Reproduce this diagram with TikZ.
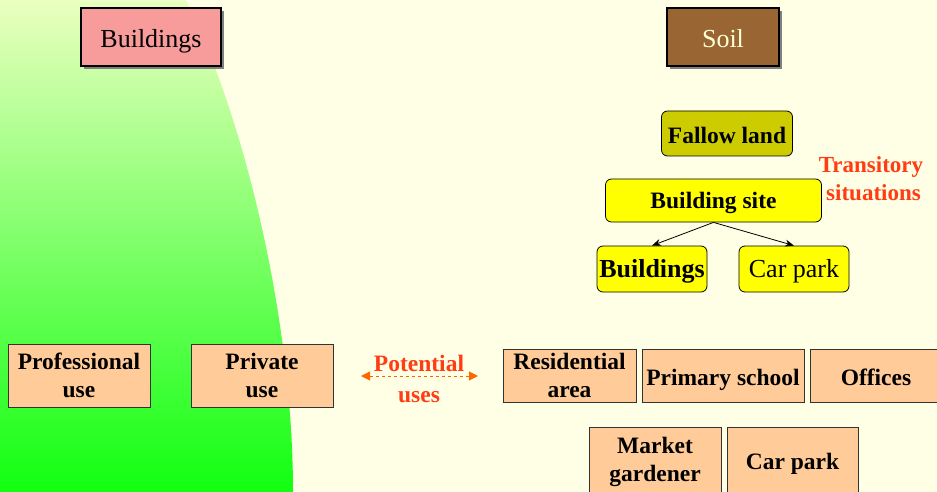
\documentclass[tikz,border=0pt]{standalone}
\usepackage{fontspec}
\setmainfont{Liberation Serif}
\usetikzlibrary{shadows,arrows.meta}
\definecolor{bgcol}{RGB}{255,255,229}
\definecolor{pinkc}{RGB}{247,155,155}
\definecolor{soilc}{RGB}{153,102,51}
\definecolor{soiltxt}{RGB}{255,255,214}
\definecolor{fallowc}{RGB}{204,204,0}
\definecolor{yelc}{RGB}{255,255,0}
\definecolor{peachc}{RGB}{255,204,153}
\definecolor{redtxt}{RGB}{255,60,20}
\definecolor{arrowc}{RGB}{255,102,0}
\definecolor{gtop}{RGB}{234,255,192}
\definecolor{gmid}{RGB}{160,255,136}
\definecolor{gbot}{RGB}{17,255,17}
\begin{document}
\begin{tikzpicture}[x=1pt,y=-1pt,
  topbox/.style={draw=black,line width=1.2pt,inner sep=0pt,
    drop shadow={shadow xshift=3pt,shadow yshift=-3pt,fill=black!50,opacity=1},
    font=\fontsize{26}{30}\selectfont,text height=21pt,text depth=0pt},
  ybox/.style={draw=black,line width=0.8pt,rounded corners=6pt,inner sep=0pt,fill=yelc},
  peach/.style={draw=black!80,line width=0.9pt,inner sep=0pt,fill=peachc,align=center,
    font=\fontsize{23.5}{28}\selectfont\bfseries},
  sline/.style={text height=#1,text depth=0pt},
  sline/.default=18pt,
  boldf/.style={font=\fontsize{23.5}{28}\selectfont\bfseries},
  regf/.style={font=\fontsize{26}{30}\selectfont},
  tip/.style={-{Stealth[length=9pt,width=7pt]}}
]
\useasboundingbox (0,0) rectangle (937,492);
\fill[bgcol] (0,0) rectangle (937,492);
% green area
\shade[top color=gtop,middle color=gmid,bottom color=gbot]
  (0,0) -- (186,0) .. controls (245,120) and (293,320) .. (293,492) -- (0,492) -- cycle;

% top boxes
\node[topbox,fill=pinkc,minimum width=140pt,minimum height=58pt] (topB) at (151,37) {Buildings};
\node[topbox,fill=soilc,text=soiltxt,minimum width=112pt,minimum height=58pt] (soil) at (723,37) {Soil};

% tree
\node[ybox,fill=fallowc,minimum width=131pt,minimum height=45pt,boldf,sline=19pt] (fallow) at (727,133.5) {Fallow land};
\node[ybox,minimum width=216pt,minimum height=43pt,boldf,sline=16pt] (site) at (713.5,200.5) {Building site};
\node[ybox,minimum width=110pt,minimum height=46pt,font=\fontsize{26}{30}\selectfont\bfseries,sline=17pt] (yb) at (652,269) {Buildings};
\node[ybox,minimum width=110pt,minimum height=46pt,regf,sline=17pt] (ycp) at (794,269) {Car park};
\draw[tip,line width=0.8pt] (site.south) -- (yb.north);
\draw[tip,line width=0.8pt] (site.south) -- (ycp.north);
\node[text=redtxt,align=center,font=\fontsize{23}{28}\selectfont\bfseries] (trans) at (871,179) {Transitory\\\hspace*{5pt}situations};

% bottom left
\node[peach,minimum width=142pt,minimum height=63pt] (prof) at (79,375.5) {Professional\\use};
\node[peach,minimum width=142pt,minimum height=63pt] (priv) at (262,375.5) {Private\\use};

% potential uses
\node[text=redtxt,align=center,font=\fontsize{23.5}{31}\selectfont\bfseries] (pot) at (419,379) {Potential\\uses};
\coordinate (pl) at (361,376);
\coordinate (pr) at (478,376);
\draw[arrowc,dashed,line width=1pt,{Triangle[length=9pt,width=9pt]}-{Triangle[length=9pt,width=9pt]}] (pl) -- (pr);

% bottom right
\node[peach,minimum width=133pt,minimum height=53pt] (res) at (569.5,375.5) {Residential\\area};
\node[peach,minimum width=162pt,minimum height=53pt,sline=19pt] (prim) at (723,375.5) {Primary school};
\node[peach,minimum width=132pt,minimum height=53pt,sline=19pt] (off) at (876,375.5) {Offices};
\node[peach,minimum width=132pt,minimum height=70pt] (mkt) at (655,462) {Market\\gardener};
\node[peach,minimum width=131pt,minimum height=70pt,sline=14pt] (cp2) at (792.5,462) {Car park};
\end{tikzpicture}
\end{document}
